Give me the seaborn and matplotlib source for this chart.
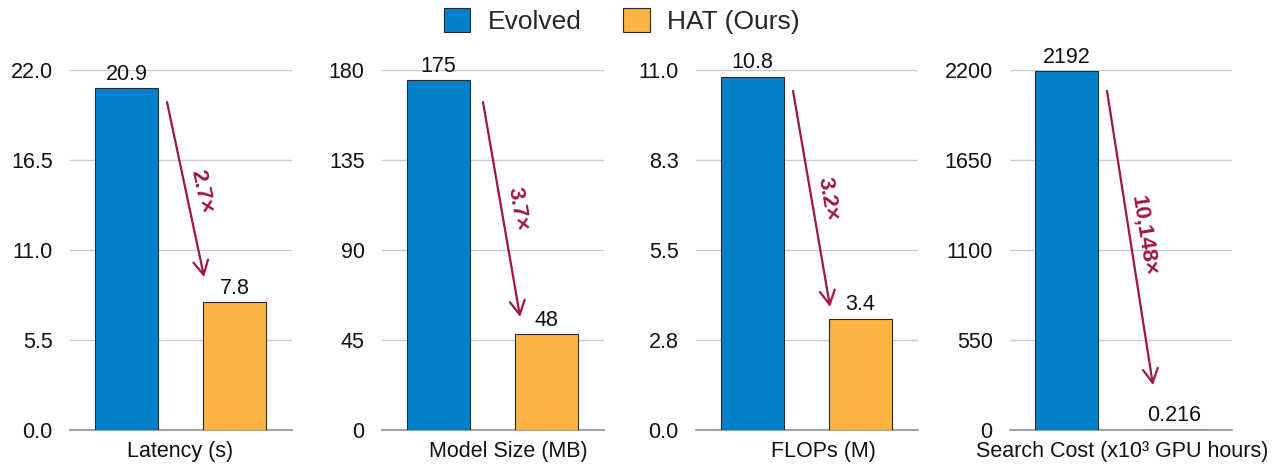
import seaborn as sns
import matplotlib.pyplot as plt
from matplotlib.patches import Patch

# data
metrics = ['Latency (s)', 'Model Size (MB)', 'FLOPs (M)', 'Search Cost (x10³ GPU hours)']
models = ['Evolved', 'HAT (Ours)']
evolved = [20.9, 175, 10.8, 2192]
hat = [7.8, 48, 3.4, 0.216]
evolved_labels = ['20.9', '175', '10.8', '2192']
hat_labels = ['7.8', '48', '3.4', '0.216']
speedups = ['2.7×', '3.7×', '3.2×', '10,148×']
y_max = [22, 180, 11, 2200]
y_ticklabels = [
    ['0.0', '5.5', '11.0', '16.5', '22.0'],
    ['0', '45', '90', '135', '180'],
    ['0.0', '2.8', '5.5', '8.3', '11.0'],
    ['0', '550', '1100', '1650', '2200'],
]

colors = ['#0281C8', '#FBB443']
arrow_color = '#A0173F'

# layout (axes fraction) for the arrows and their labels
arrow_start = [(0.437, 0.911), (0.455, 0.911), (0.437, 0.942), (0.437, 0.942)]
arrow_end = [(0.604, 0.425), (0.622, 0.314), (0.604, 0.342), (0.644, 0.125)]
arrow_text_pos = [(0.590, 0.664), (0.612, 0.614), (0.594, 0.642), (0.603, 0.539)]
arrow_text_rot = [-78, -80.5, -80.5, -81]
xlabel_x = [0.498, 0.568, 0.572, 0.505]

sns.set_style('white')
plt.rcParams['font.family'] = ['Liberation Sans', 'DejaVu Sans']

fig = plt.figure(figsize=(12.8, 4.7), dpi=100)
lefts = [70, 382, 696, 1010]

for i in range(4):
    ax = fig.add_axes([lefts[i] / 1280, 1 - 430 / 470, 222 / 1280, 360 / 470])
    vals = [evolved[i], hat[i]]
    sns.barplot(x=models, y=vals, hue=models, palette=colors, width=0.583,
                saturation=1, edgecolor='#2a2a2a', linewidth=0.8, legend=False,
                ax=ax, zorder=3)
    ax.set_xlim(-0.523, 1.532)
    ax.set_ylim(0, y_max[i])
    ticks = [y_max[i] * k / 4 for k in range(5)]
    ax.set_yticks(ticks)
    ax.set_yticklabels(y_ticklabels[i])
    ax.set_xticks([])
    ax.tick_params(axis='y', length=0, pad=12.5, labelsize=15.5, colors='#111111')
    ax.yaxis.grid(True, color='#cccccc', linewidth=1)
    ax.set_axisbelow(True)
    for s in ['left', 'right', 'top']:
        ax.spines[s].set_visible(False)
    ax.spines['bottom'].set_color('#999999')
    ax.spines['bottom'].set_linewidth(1.3)

    for j, lab in enumerate([evolved_labels[i], hat_labels[i]]):
        ax.annotate(lab, (j, vals[j]), xytext=(0, 2.5), textcoords='offset points',
                    ha='center', va='bottom', fontsize=15.5, color='#111111', zorder=5)

    ax.set_xlabel(metrics[i], fontsize=15.5, color='#111111')
    ax.xaxis.set_label_coords(xlabel_x[i], -0.03)

    ax.annotate('', xy=arrow_end[i], xytext=arrow_start[i],
                xycoords='axes fraction', textcoords='axes fraction',
                arrowprops=dict(arrowstyle='->,head_length=0.5,head_width=0.27',
                                color=arrow_color, lw=1.6, mutation_scale=20,
                                shrinkA=0, shrinkB=0), zorder=6)
    ax.text(arrow_text_pos[i][0], arrow_text_pos[i][1], speedups[i],
            transform=ax.transAxes, rotation=arrow_text_rot[i],
            rotation_mode='anchor', ha='center', va='center',
            fontsize=16, fontweight='bold', color=arrow_color, zorder=6)

handles = [Patch(facecolor=c, edgecolor='#2a2a2a', linewidth=0.8) for c in colors]
fig.legend(handles, models, loc='center', bbox_to_anchor=(0.486, 0.955), ncol=2,
           frameon=False, fontsize=19, handlelength=1.0, handleheight=1.0,
           handletextpad=0.67, columnspacing=1.57)

fig.savefig('out.png', dpi=100)
